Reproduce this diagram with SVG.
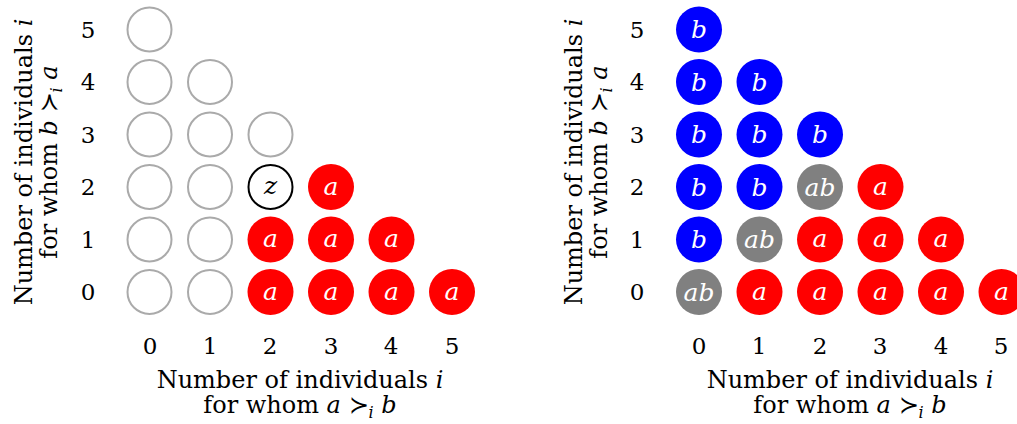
<svg xmlns="http://www.w3.org/2000/svg" width="1017" height="424" viewBox="0 0 1017 424">
<style>
.lbl{font-family:"DejaVu Serif","Liberation Serif",serif;font-size:23px;fill:#000;text-anchor:middle}
.ttl{font-family:"DejaVu Serif","Liberation Serif",serif;font-size:24px;fill:#000;text-anchor:middle}
.it{font-style:italic}
.sub{font-style:italic;font-size:16px}
.e{fill:none;stroke:#aaaaaa;stroke-width:2}
.z{fill:#fff;stroke:#000;stroke-width:2}
.ra{fill:#ff0000}
.bb{fill:#0000ff}
.gg{fill:#808080}
.t{font-family:"DejaVu Serif","Liberation Serif",serif;font-style:italic;font-size:25px;fill:#fff;text-anchor:middle}
.tz{font-family:"DejaVu Serif","Liberation Serif",serif;font-style:italic;font-size:25px;fill:#000;text-anchor:middle}
</style>
<rect width="1017" height="424" fill="#fff"/>
<!-- Left panel axes -->
<g id="left-axes">
<text class="lbl" x="88" y="38">5</text>
<text class="lbl" x="88" y="90">4</text>
<text class="lbl" x="88" y="143">3</text>
<text class="lbl" x="88" y="195">2</text>
<text class="lbl" x="88" y="248">1</text>
<text class="lbl" x="88" y="300">0</text>
<text class="lbl" x="150" y="354">0</text>
<text class="lbl" x="210" y="354">1</text>
<text class="lbl" x="270" y="354">2</text>
<text class="lbl" x="331" y="354">3</text>
<text class="lbl" x="391" y="354">4</text>
<text class="lbl" x="452" y="354">5</text>
<text class="ttl" x="300" y="388">Number of individuals <tspan class="it">i</tspan></text>
<text class="ttl" x="300" y="413">for whom <tspan class="it">a</tspan> ≻<tspan class="sub" dy="5">i</tspan><tspan dy="-5"> </tspan><tspan class="it">b</tspan></text>
<g transform="translate(32,162) rotate(-90)">
<text class="ttl" x="0" y="0">Number of individuals <tspan class="it">i</tspan></text>
<text class="ttl" x="0" y="25">for whom <tspan class="it">b</tspan> ≻<tspan class="sub" dy="5">i</tspan><tspan dy="-5"> </tspan><tspan class="it">a</tspan></text>
</g>
</g>
<!-- Left panel nodes -->
<g id="L-0-5"><circle class="e" cx="149.5" cy="29.5" r="22"/></g>
<g id="L-0-4"><circle class="e" cx="149.5" cy="82" r="22"/></g>
<g id="L-1-4"><circle class="e" cx="210" cy="82" r="22"/></g>
<g id="L-0-3"><circle class="e" cx="149.5" cy="134.5" r="22"/></g>
<g id="L-1-3"><circle class="e" cx="210" cy="134.5" r="22"/></g>
<g id="L-2-3"><circle class="e" cx="270.5" cy="134.5" r="22"/></g>
<g id="L-0-2"><circle class="e" cx="149.5" cy="187" r="22"/></g>
<g id="L-1-2"><circle class="e" cx="210" cy="187" r="22"/></g>
<g id="L-2-2"><circle class="z" cx="270.5" cy="187" r="22"/><text class="tz" x="270.5" y="194">z</text></g>
<g id="L-3-2"><circle class="ra" cx="331" cy="187" r="23"/><text class="t" x="331" y="194.5">a</text></g>
<g id="L-0-1"><circle class="e" cx="149.5" cy="239.5" r="22"/></g>
<g id="L-1-1"><circle class="e" cx="210" cy="239.5" r="22"/></g>
<g id="L-2-1"><circle class="ra" cx="270.5" cy="239.5" r="23"/><text class="t" x="270.5" y="247">a</text></g>
<g id="L-3-1"><circle class="ra" cx="331" cy="239.5" r="23"/><text class="t" x="331" y="247">a</text></g>
<g id="L-4-1"><circle class="ra" cx="391.5" cy="239.5" r="23"/><text class="t" x="391.5" y="247">a</text></g>
<g id="L-0-0"><circle class="e" cx="149.5" cy="292" r="22"/></g>
<g id="L-1-0"><circle class="e" cx="210" cy="292" r="22"/></g>
<g id="L-2-0"><circle class="ra" cx="270.5" cy="292" r="23"/><text class="t" x="270.5" y="299.5">a</text></g>
<g id="L-3-0"><circle class="ra" cx="331" cy="292" r="23"/><text class="t" x="331" y="299.5">a</text></g>
<g id="L-4-0"><circle class="ra" cx="391.5" cy="292" r="23"/><text class="t" x="391.5" y="299.5">a</text></g>
<g id="L-5-0"><circle class="ra" cx="452" cy="292" r="23"/><text class="t" x="452" y="299.5">a</text></g>
<!-- Right panel axes -->
<g id="right-axes">
<text class="lbl" x="637" y="38">5</text>
<text class="lbl" x="637" y="90">4</text>
<text class="lbl" x="637" y="143">3</text>
<text class="lbl" x="637" y="195">2</text>
<text class="lbl" x="637" y="248">1</text>
<text class="lbl" x="637" y="300">0</text>
<text class="lbl" x="699" y="354">0</text>
<text class="lbl" x="759" y="354">1</text>
<text class="lbl" x="820" y="354">2</text>
<text class="lbl" x="880" y="354">3</text>
<text class="lbl" x="941" y="354">4</text>
<text class="lbl" x="1001" y="354">5</text>
<text class="ttl" x="850" y="388">Number of individuals <tspan class="it">i</tspan></text>
<text class="ttl" x="850" y="413">for whom <tspan class="it">a</tspan> ≻<tspan class="sub" dy="5">i</tspan><tspan dy="-5"> </tspan><tspan class="it">b</tspan></text>
<g transform="translate(582,162) rotate(-90)">
<text class="ttl" x="0" y="0">Number of individuals <tspan class="it">i</tspan></text>
<text class="ttl" x="0" y="25">for whom <tspan class="it">b</tspan> ≻<tspan class="sub" dy="5">i</tspan><tspan dy="-5"> </tspan><tspan class="it">a</tspan></text>
</g>
</g>
<!-- Right panel nodes -->
<g id="R-0-5"><circle class="bb" cx="699" cy="29.5" r="23"/><text class="t" x="699" y="38">b</text></g>
<g id="R-0-4"><circle class="bb" cx="699" cy="82" r="23"/><text class="t" x="699" y="90.5">b</text></g>
<g id="R-1-4"><circle class="bb" cx="759.5" cy="82" r="23"/><text class="t" x="759.5" y="90.5">b</text></g>
<g id="R-0-3"><circle class="bb" cx="699" cy="134.5" r="23"/><text class="t" x="699" y="143">b</text></g>
<g id="R-1-3"><circle class="bb" cx="759.5" cy="134.5" r="23"/><text class="t" x="759.5" y="143">b</text></g>
<g id="R-2-3"><circle class="bb" cx="820" cy="134.5" r="23"/><text class="t" x="820" y="143">b</text></g>
<g id="R-0-2"><circle class="bb" cx="699" cy="187" r="23"/><text class="t" x="699" y="195.5">b</text></g>
<g id="R-1-2"><circle class="bb" cx="759.5" cy="187" r="23"/><text class="t" x="759.5" y="195.5">b</text></g>
<g id="R-2-2"><circle class="gg" cx="820" cy="187" r="23"/><text class="t" x="820" y="195.5">ab</text></g>
<g id="R-3-2"><circle class="ra" cx="880.5" cy="187" r="23"/><text class="t" x="880.5" y="194.5">a</text></g>
<g id="R-0-1"><circle class="bb" cx="699" cy="239.5" r="23"/><text class="t" x="699" y="248">b</text></g>
<g id="R-1-1"><circle class="gg" cx="759.5" cy="239.5" r="23"/><text class="t" x="759.5" y="248">ab</text></g>
<g id="R-2-1"><circle class="ra" cx="820" cy="239.5" r="23"/><text class="t" x="820" y="247">a</text></g>
<g id="R-3-1"><circle class="ra" cx="880.5" cy="239.5" r="23"/><text class="t" x="880.5" y="247">a</text></g>
<g id="R-4-1"><circle class="ra" cx="941" cy="239.5" r="23"/><text class="t" x="941" y="247">a</text></g>
<g id="R-0-0"><circle class="gg" cx="699" cy="292" r="23"/><text class="t" x="699" y="300.5">ab</text></g>
<g id="R-1-0"><circle class="ra" cx="759.5" cy="292" r="23"/><text class="t" x="759.5" y="299.5">a</text></g>
<g id="R-2-0"><circle class="ra" cx="820" cy="292" r="23"/><text class="t" x="820" y="299.5">a</text></g>
<g id="R-3-0"><circle class="ra" cx="880.5" cy="292" r="23"/><text class="t" x="880.5" y="299.5">a</text></g>
<g id="R-4-0"><circle class="ra" cx="941" cy="292" r="23"/><text class="t" x="941" y="299.5">a</text></g>
<g id="R-5-0"><circle class="ra" cx="1001.5" cy="292" r="23"/><text class="t" x="1001.5" y="299.5">a</text></g>
<g id="connectors"></g>
</svg>
